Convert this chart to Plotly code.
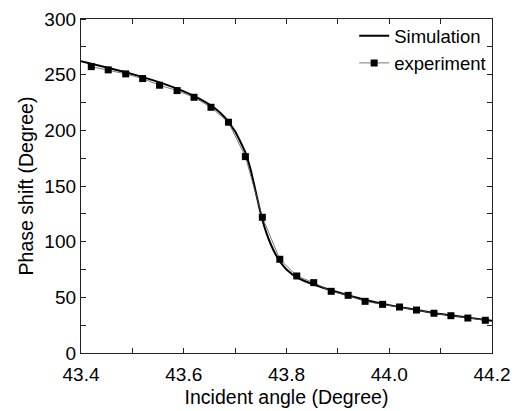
import plotly.graph_objects as go

# Experiment data
exp_x = [43.420, 43.453, 43.487, 43.520, 43.553, 43.587, 43.620, 43.653,
         43.687, 43.720, 43.753, 43.787, 43.820, 43.853, 43.887, 43.920,
         43.953, 43.987, 44.020, 44.053, 44.087, 44.120, 44.153, 44.187]
exp_y = [257.2, 254.3, 250.7, 246.5, 240.5, 235.7, 229.7, 220.7,
         207.3, 176.4, 121.9, 84.2, 69.2, 63.2, 55.4, 51.8,
         46.4, 43.7, 41.3, 38.6, 35.7, 33.5, 31.4, 29.4]

# Simulation curve
sim_x = [43.40, 43.45, 43.50, 43.55, 43.60, 43.63, 43.66, 43.68, 43.70,
         43.71, 43.72, 43.73, 43.74, 43.75, 43.76, 43.77, 43.78, 43.79,
         43.80, 43.82, 43.85, 43.90, 43.95, 44.00, 44.05, 44.10, 44.15, 44.20]
sim_y = [262.0, 256.5, 250.5, 243.5, 235.0, 228.5, 220.0, 211.5, 199.0,
         190.0, 180.0, 165.0, 145.0, 125.0, 109.0, 97.0, 87.5, 80.5,
         75.0, 68.0, 62.0, 54.5, 48.0, 43.0, 39.0, 35.0, 32.0, 29.0]

x_ticks = [43.4, 43.6, 43.8, 44.0, 44.2]
x_ticklabels = ["43.4", "43.6", "43.8", "44.0", "44.2"]
y_ticks = [0, 50, 100, 150, 200, 250, 300]

FONT = "Liberation Sans, Arial, sans-serif"
AX = "#222222"

fig = go.Figure()
fig.add_trace(go.Scatter(
    x=sim_x, y=sim_y, mode="lines", name="Simulation",
    line=dict(color="black", width=2, shape="spline", smoothing=0.6),
))
fig.add_trace(go.Scatter(
    x=exp_x, y=exp_y, mode="lines+markers", name="experiment",
    line=dict(color="#555555", width=0.8),
    marker=dict(symbol="square", size=7, color="black"),
))

fig.update_layout(
    width=518, height=411,
    margin=dict(l=81, r=26, t=19, b=58),
    paper_bgcolor="white", plot_bgcolor="white",
    font=dict(family=FONT, color="black"),
    showlegend=True,
    legend=dict(x=0.998, y=1.005, xanchor="right", yanchor="top",
                bgcolor="rgba(0,0,0,0)", font=dict(size=18.5, family=FONT),
                tracegroupgap=0, itemwidth=30),
    xaxis=dict(range=[43.4, 44.2], tickvals=x_ticks, ticktext=x_ticklabels,
               ticks="inside", ticklen=5, tickwidth=1, tickcolor=AX,
               minor=dict(ticks="inside", dtick=0.1, tick0=43.4, ticklen=5, tickcolor=AX),
               showline=True, linecolor=AX, linewidth=1.3, showgrid=False,
               zeroline=False, tickfont=dict(size=19), ticklabelstandoff=4,
               automargin=False,
               title=dict(text="Incident angle (Degree)", font=dict(size=19.5), standoff=6)),
    yaxis=dict(range=[0, 300], tickvals=y_ticks, ticks="",
               minor=dict(ticks="inside", dtick=25, tick0=0, ticklen=5, tickcolor=AX),
               showline=True, linecolor=AX, linewidth=1.3, showgrid=False,
               zeroline=False, tickfont=dict(size=19), automargin=False,
               title=dict(text="Phase shift (Degree)", font=dict(size=19.5), standoff=5)),
    xaxis2=dict(range=[43.4, 44.2], overlaying="x", side="top", anchor="y",
                tickvals=[43.4, 43.5, 43.6, 43.7, 43.8, 43.9, 44.0, 44.1, 44.2],
                showticklabels=False, ticks="inside", ticklen=5, tickcolor=AX,
                automargin=False,
                showline=True, linecolor=AX, linewidth=1.3, showgrid=False, zeroline=False),
    yaxis2=dict(range=[0, 300], overlaying="y", side="right", anchor="x",
                tickvals=[0, 25, 50, 75, 100, 125, 150, 175, 200, 225, 250, 275, 300],
                showticklabels=False, ticks="inside", ticklen=5, tickcolor=AX,
                automargin=False,
                showline=True, linecolor=AX, linewidth=1.3, showgrid=False, zeroline=False),
)
# dummy invisible trace to activate secondary axes
fig.add_trace(go.Scatter(x=[43.4], y=[0], xaxis="x2", yaxis="y2", mode="markers",
                         marker=dict(opacity=0), showlegend=False, hoverinfo="skip"))

fig.write_html("out.html")
